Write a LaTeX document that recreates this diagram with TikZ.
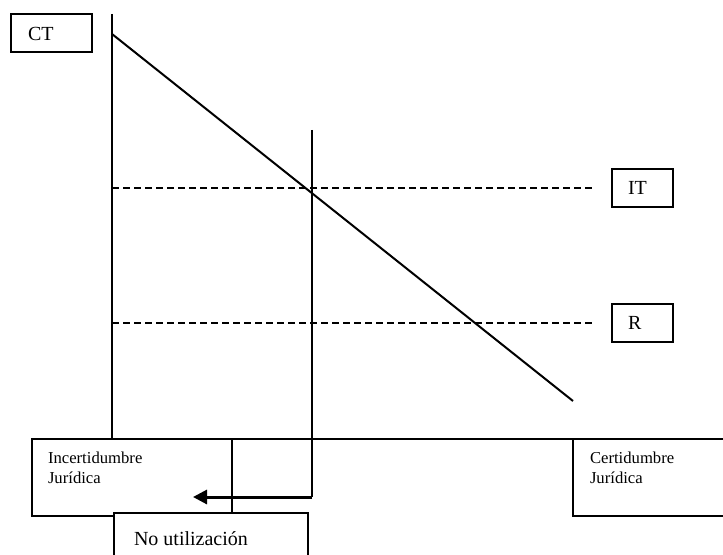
\documentclass[tikz,border=0pt]{standalone}
\usepackage{fontspec}
\setmainfont{Liberation Serif}
\usepackage{tikz}
\usetikzlibrary{arrows.meta,calc,positioning}

\tikzset{
    box/.style={draw, line width=1.2pt, rectangle, inner sep=0pt},
    tag/.style={box, font=\fontsize{12}{14}\selectfont, align=left,
        minimum height=22.8pt},
    note/.style={font=\fontsize{10}{12}\selectfont, align=left, inner sep=0pt},
    level/.style={line width=1.2pt, dash pattern=on 4.2pt off 2.4pt},
}

\begin{document}
\begin{tikzpicture}[x=0.6pt, y=-0.6pt, line width=1.2pt]

    \useasboundingbox (0,0) rectangle (723,554);
    \clip (0,0) rectangle (723,554);

    % Ejes
    \coordinate (top) at (112,14);
    \coordinate (origin) at (112,439);
    \coordinate (far) at (760,439);
    \draw (top) -- (origin) -- (far);

    % Costes
    \coordinate (cstart) at (112,34);
    \coordinate (cend) at (573,401);
    \draw (cstart) -- (cend);

    % Etiquetas
    \node[tag, minimum width=48.6pt, inner xsep=10.2pt, text width=28.2pt]
        (ct) at (51.5,33.5) {CT};
    \node[tag, minimum width=36.6pt, inner xsep=9.6pt, text width=17.4pt]
        (it) at (642.5,188) {IT};
    \node[tag, minimum width=36.6pt, inner xsep=9.6pt, text width=17.4pt]
        (r) at (642.5,323) {R};

    % Niveles
    \coordinate (itstart) at (112,188);
    \coordinate (rstart) at (112,323);
    \draw[level] (itstart) -- ([xshift=-10.2pt]it.west);
    \draw[level] (rstart) -- ([xshift=-10.2pt]r.west);

    % Extremos
    \node[box, minimum width=120pt, minimum height=46.2pt]
        (incert) at (132,477.5) {};
    \node[note, anchor=north west] (incerttxt)
        at ([xshift=9.6pt, yshift=-7.5pt]incert.north west)
        {Incertidumbre\\Jurídica};
    \node[box, minimum width=112.2pt, minimum height=46.2pt]
        (cert) at (666.5,477.5) {};
    \node[note, anchor=north west] (certtxt)
        at ([xshift=10.2pt, yshift=-7.5pt]cert.north west)
        {Certidumbre\\Jurídica};

    % Umbral
    \coordinate (utop) at (312,130);
    \coordinate (ucorner) at (312,497);
    \coordinate (utip) at (193,497);
    \draw (utop) -- (ucorner);
    \draw[line width=1.8pt, -{Triangle[length=8.4pt,width=8.4pt]}]
        (ucorner) -- (utip);

    \node[box, fill=white, minimum width=116.4pt, minimum height=46.2pt]
        (noutil) at (211,551.5) {};
    \node[note, font=\fontsize{12}{14}\selectfont, anchor=base west]
        (noutiltxt) at (133,545) {No utilización};

\end{tikzpicture}
\end{document}
